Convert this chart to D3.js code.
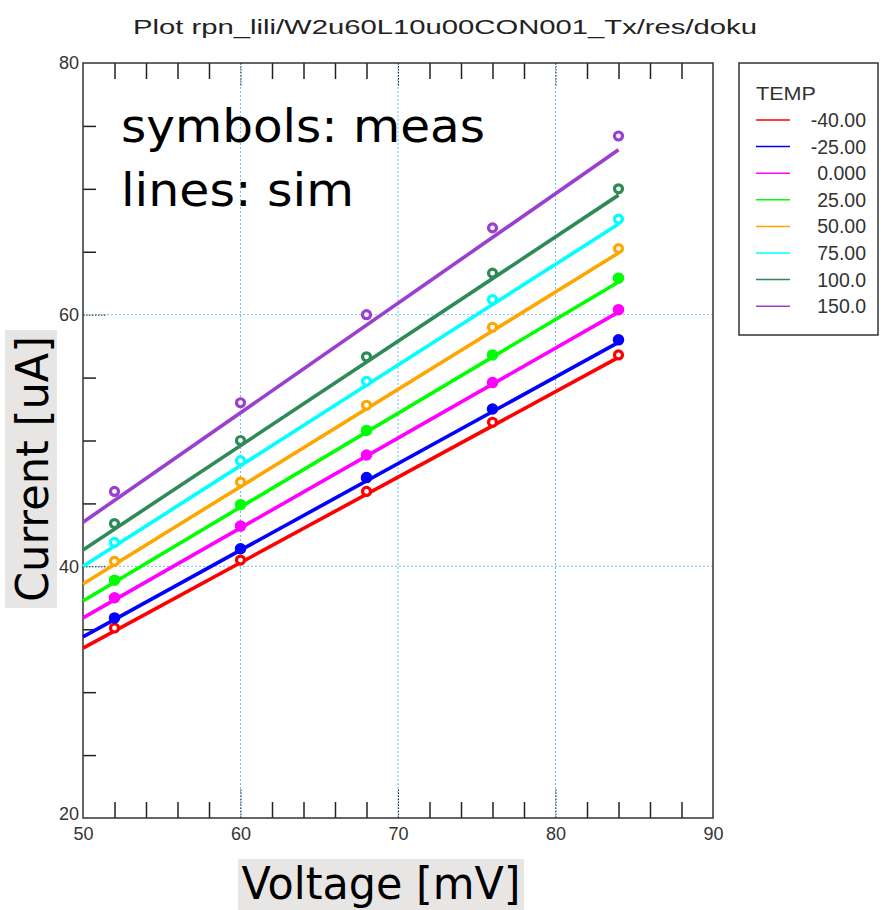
<!DOCTYPE html>
<html><head><meta charset="utf-8">
<script src="https://cdn.jsdelivr.net/npm/d3@7"></script>
<style>body{margin:0;background:#fff}svg{display:block}</style>
</head><body>
<script>
const temps = ["-40.00","-25.00","0.000","25.00","50.00","75.00","100.0","150.0"];
const colors = ["#ff0000","#0000ff","#ff00ff","#00ff00","#ffa500","#00ffff","#2e8b57","#9a3fcf"];
const openSym = [true,false,false,false,true,true,true,true];
const measV = [52,60,68,76,84];
const meas = [
  [35.1,40.5,45.95,51.45,56.8],
  [35.9,41.4,47.05,52.5,58.0],
  [37.5,43.2,48.85,54.6,60.4],
  [38.9,44.9,50.8,56.8,62.9],
  [40.4,46.7,52.8,59.0,65.25],
  [41.9,48.4,54.7,61.2,67.6],
  [43.4,50.0,56.65,63.3,70.0],
  [45.95,53.0,60.0,66.9,74.2]
];
const simV = [50,84];
const sim = [
  [33.5,56.6],[34.4,57.8],[35.9,60.2],[37.25,62.6],[38.6,64.9],[40.0,67.2],[41.3,69.5],[43.5,73.1]
];
const xMajor = [50,60,70,80,90];
const yMajor = [20,40,60,80];
const xGrid = [60,70,80];
const yGrid = [40,60];

const W=881,H=910;
const svg=d3.select("body").append("svg").attr("width",W).attr("height",H);
const x=d3.scaleLinear().domain([50,90]).range([83,713]);
const y=d3.scaleLinear().domain([20,80]).range([818,63]);
const font="'Liberation Sans', Arial, sans-serif";
const big="'DejaVu Sans', Verdana, sans-serif";

// title
svg.append("text").attr("x",445).attr("y",34).attr("text-anchor","middle")
  .attr("font-family",font).attr("font-size",20).attr("fill","#222")
  .attr("textLength",624).attr("lengthAdjust","spacingAndGlyphs")
  .text("Plot rpn_lili/W2u60L10u00CON001_Tx/res/doku");

// grid
const g=svg.append("g");
g.selectAll(".gx").data(xGrid).join("line").attr("x1",d=>x(d)).attr("x2",d=>x(d))
  .attr("y1",63).attr("y2",818).attr("stroke","#6cc0f0").attr("stroke-width",1).attr("stroke-dasharray","2,2");
g.selectAll(".gy").data(yGrid).join("line").attr("y1",d=>y(d)).attr("y2",d=>y(d))
  .attr("x1",83).attr("x2",713).attr("stroke","#6cc0f0").attr("stroke-width",1).attr("stroke-dasharray","2,2");

// minor ticks via axes
const minorX=d3.range(52,90,2).filter(v=>v%10!==0);
const minorY=d3.range(25,80,5).filter(v=>v%20!==0);
const axB=svg.append("g").attr("transform","translate(0,818)")
  .call(d3.axisBottom(x).tickValues(minorX).tickSize(-16).tickFormat(""));
const axT=svg.append("g").attr("transform","translate(0,63)")
  .call(d3.axisTop(x).tickValues(minorX).tickSize(-16).tickFormat(""));
const axL=svg.append("g").attr("transform","translate(83,0)")
  .call(d3.axisLeft(y).tickValues(minorY).tickSize(-13).tickFormat(""));
[axB,axT,axL].forEach(a=>{a.select(".domain").remove();a.selectAll("line").attr("stroke","#222").attr("stroke-width",1.5);});

// major dotted black ticks
const axBM=svg.append("g").attr("transform","translate(0,818)")
  .call(d3.axisBottom(x).tickValues(xGrid).tickSize(-30).tickFormat(""));
const axTM=svg.append("g").attr("transform","translate(0,63)")
  .call(d3.axisTop(x).tickValues(xGrid).tickSize(-24).tickFormat(""));
const axLM=svg.append("g").attr("transform","translate(83,0)")
  .call(d3.axisLeft(y).tickValues(yGrid).tickSize(-24).tickFormat(""));
[axBM,axTM,axLM].forEach(a=>{a.select(".domain").remove();a.selectAll("line").attr("stroke","#222").attr("stroke-width",1).attr("stroke-dasharray","1.5,1.5");});

// tick labels
const axBL=svg.append("g").attr("transform","translate(0,818)")
  .call(d3.axisBottom(x).tickValues(xMajor).tickSize(0).tickPadding(9).tickFormat(d3.format("d")));
const axLL=svg.append("g").attr("transform","translate(83,0)")
  .call(d3.axisLeft(y).tickValues(yMajor).tickSize(0).tickPadding(4).tickFormat(d3.format("d")));
[axBL,axLL].forEach(a=>{a.select(".domain").remove();a.selectAll("text").attr("font-family",font).attr("font-size",18).attr("fill","#333");});
axLL.selectAll(".tick").filter(d=>d===20).select("text").attr("dy","0.1em");

// frame
svg.append("rect").attr("x",83).attr("y",63).attr("width",630).attr("height",755)
  .attr("fill","none").attr("stroke","#333").attr("stroke-width",1.5);

// annotation
svg.append("text").attr("x",121).attr("y",142).attr("font-family",big).attr("font-size",46).attr("fill","#000")
  .attr("textLength",364).attr("lengthAdjust","spacingAndGlyphs").text("symbols: meas");
svg.append("text").attr("x",121).attr("y",206).attr("font-family",big).attr("font-size",46).attr("fill","#000")
  .attr("textLength",233).attr("lengthAdjust","spacingAndGlyphs").text("lines: sim");

// sim lines
const line=d3.line().x(d=>x(d[0])).y(d=>y(d[1]));
sim.forEach((s,i)=>{
  svg.append("path").datum(simV.map((v,j)=>[v,s[j]])).attr("d",line)
    .attr("fill","none").attr("stroke",colors[i]).attr("stroke-width",3.6);
});
// meas symbols
meas.forEach((m,i)=>{
  svg.append("g").selectAll("circle").data(measV.map((v,j)=>[v,m[j]])).join("circle")
    .attr("cx",d=>x(d[0])).attr("cy",d=>y(d[1])).attr("r",openSym[i]?4:5)
    .attr("fill",openSym[i]?"#fff":colors[i]).attr("stroke",colors[i]).attr("stroke-width",openSym[i]?3.2:1.5);
});

// axis labels
svg.append("rect").attr("x",238).attr("y",859).attr("width",286).attr("height",51).attr("fill","#e8e6e4");
svg.append("text").attr("x",381).attr("y",899).attr("text-anchor","middle").attr("font-family",big).attr("font-size",44).attr("fill","#000")
  .attr("textLength",279).attr("lengthAdjust","spacingAndGlyphs").text("Voltage [mV]");
svg.append("rect").attr("x",5).attr("y",330).attr("width",52).attr("height",278).attr("fill","#e8e6e4");
svg.append("text").attr("transform","translate(48,469) rotate(-90)").attr("text-anchor","middle").attr("font-family",big).attr("font-size",44).attr("fill","#000")
  .attr("textLength",266).attr("lengthAdjust","spacingAndGlyphs").text("Current [uA]");

// legend
const lg=svg.append("g");
lg.append("rect").attr("x",739).attr("y",63).attr("width",139).attr("height",272).attr("fill","#fff").attr("stroke","#333").attr("stroke-width",1.5);
lg.append("text").attr("x",756).attr("y",100).attr("font-family",font).attr("font-size",19).attr("fill","#333")
  .attr("textLength",60).attr("lengthAdjust","spacingAndGlyphs").text("TEMP");
temps.forEach((t,i)=>{
  const yy=120+i*26.6;
  lg.append("line").attr("x1",756).attr("x2",790).attr("y1",yy).attr("y2",yy).attr("stroke",colors[i]).attr("stroke-width",1.5);
  lg.append("text").attr("x",866).attr("y",yy+7).attr("text-anchor","end").attr("font-family",font).attr("font-size",19.5).attr("fill","#333").text(t);
});
</script>
</body></html>
